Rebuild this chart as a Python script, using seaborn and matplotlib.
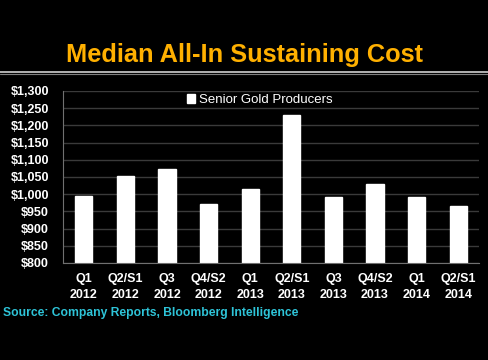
import matplotlib
matplotlib.use("Agg")
import matplotlib.pyplot as plt
import pandas as pd
import seaborn as sns

quarters = ["Q1\n2012", "Q2/S1\n2012", "Q3\n2012", "Q4/S2\n2012", "Q1\n2013",
            "Q2/S1\n2013", "Q3\n2013", "Q4/S2\n2013", "Q1\n2014", "Q2/S1\n2014"]
aisc = [996, 1052, 1072, 971, 1015, 1229, 992, 1030, 991, 967]
yticks = list(range(800, 1301, 50))

sns.set_style("dark")
plt.rcParams["font.family"] = ["Liberation Sans", "DejaVu Sans"]

df = pd.DataFrame({"quarter": quarters, "cost": aisc, "series": "Senior Gold Producers"})

fig = plt.figure(figsize=(4.88, 3.6), dpi=100, facecolor="black")
ax = fig.add_axes([63 / 488, 1 - 263 / 360, 416 / 488, 172 / 360])
ax.set_facecolor("black")

sns.barplot(data=df, x="quarter", y="cost", hue="series", palette=["white"],
            width=0.41, saturation=1, ax=ax)

ax.set_ylim(800, 1300)
ax.set_xlim(-0.5, len(quarters) - 0.5)
ax.set_yticks(yticks)
ax.set_yticklabels([f"${v:,}" for v in yticks])
ax.grid(axis="y", color="#3a3a3a", linewidth=1)
ax.set_axisbelow(True)
ax.set_xlabel("")
ax.set_ylabel("")
for side in ["top", "right"]:
    ax.spines[side].set_visible(False)
for side in ["left", "bottom"]:
    ax.spines[side].set_color("#707070")
ax.tick_params(axis="y", colors="white", labelsize=9, length=0, pad=10)
ax.tick_params(axis="x", colors="white", labelsize=9, length=0, pad=7)
for lbl in ax.get_xticklabels() + ax.get_yticklabels():
    lbl.set_fontweight("bold")
    lbl.set_color("white")
for lbl in ax.get_xticklabels():
    lbl.set_linespacing(1.45)

leg = ax.legend(loc="upper left", bbox_to_anchor=(0.27, 1.05), frameon=False,
                fontsize=9.5, handlelength=0.6, handleheight=0.6, handletextpad=0.3)
for t in leg.get_texts():
    t.set_color("white")

fig.text(0.5, 1 - 55 / 360, "Median All-In Sustaining Cost", ha="center", va="center",
         color="#FFB000", fontsize=18.3, fontweight="bold")
fig.add_artist(plt.Line2D([0, 1], [1 - 71.5 / 360, 1 - 71.5 / 360], color="#d0d0d0", linewidth=1.2))
fig.add_artist(plt.Line2D([0, 1], [1 - 74 / 360, 1 - 74 / 360], color="#808080", linewidth=0.8))

fig.text(3 / 488, 1 - 313 / 360, "Source: Company Reports, Bloomberg Intelligence",
         ha="left", va="center", color="#2EC4D8", fontsize=8.7, fontweight="bold")

fig.savefig("out.png", dpi=100, facecolor="black")
